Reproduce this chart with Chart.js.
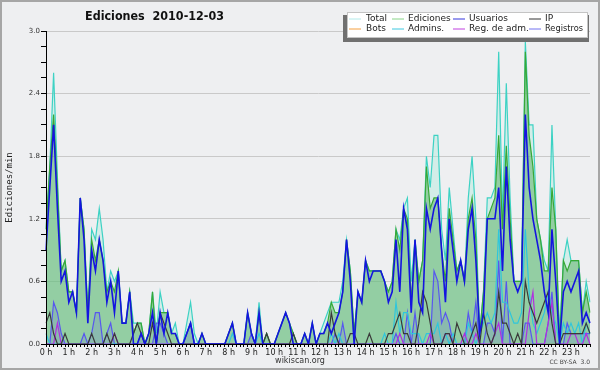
<!DOCTYPE html>
<html>
<head>
<meta charset="utf-8">
<script src="https://cdn.jsdelivr.net/npm/chart.js@4/dist/chart.umd.min.js"></script>
<style>
html, body { margin: 0; padding: 0; background: #eeeff1; }
canvas { display: block; }
</style>
</head>
<body>
<canvas id="editsChart" width="600" height="370"></canvas>
<script>
// 10-minute bins over the day, values in edits per minute
const times = [];
for (let h = 0; h < 24; h++) {
    for (let m = 0; m < 60; m += 10) times.push(h + ':' + String(m).padStart(2, '0'));
}
const hourTicks = ['0 h', '1 h', '2 h', '3 h', '4 h', '5 h', '6 h', '7 h', '8 h', '9 h', '10 h', '11 h',
    '12 h', '13 h', '14 h', '15 h', '16 h', '17 h', '18 h', '19 h', '20 h', '21 h', '22 h', '23 h'];

const total = [
    1.1, 1.7, 2.6, 1.6, 0.7, 0.8, 0.5, 0.5, 0.3, 1.4, 1.1, 0.3,
    1.1, 1.0, 1.3, 1.0, 0.5, 0.7, 0.6, 0.7, 0.2, 0.2, 0.5, 0.2,
    0.2, 0.2, 0, 0.1, 0.5, 0.1, 0.5, 0.3, 0.3, 0.1, 0.2, 0,
    0, 0.2, 0.4, 0.1, 0, 0.1, 0, 0, 0, 0, 0, 0,
    0.1, 0.2, 0, 0, 0, 0.3, 0.1, 0, 0.4, 0, 0.1, 0,
    0, 0.1, 0.2, 0.3, 0.2, 0.1, 0, 0, 0.1, 0, 0.2, 0,
    0.1, 0.2, 0.3, 0.4, 0.4, 0.4, 0.6, 1.0, 0.7, 0.1, 0.5, 0.4,
    0.8, 0.7, 0.7, 0.7, 0.7, 0.6, 0.5, 0.6, 1.1, 1.0, 1.3, 1.4,
    0.6, 1.0, 0.6, 0.8, 1.8, 1.5, 2.0, 2.0, 1.1, 0.8, 1.5, 1.1,
    0.7, 0.8, 0.6, 1.4, 1.8, 1.2, 0.1, 0.5, 1.4, 1.4, 1.5, 2.8,
    1.2, 2.5, 1.4, 0.6, 0.6, 0.6, 2.9, 2.1, 2.1, 1.2, 1.0, 0.8,
    0.7, 2.1, 1.1, 0.1, 0.8, 1.0, 0.8, 0.8, 0.8, 0.3, 0.6, 0.4
];
const ediciones = [
    1.1, 1.7, 2.2, 1.5, 0.7, 0.8, 0.5, 0.5, 0.3, 1.4, 1.1, 0.3,
    1.0, 0.8, 1.0, 0.8, 0.5, 0.6, 0.5, 0.7, 0.2, 0.2, 0.5, 0.1,
    0.2, 0.2, 0, 0.1, 0.5, 0, 0.3, 0.3, 0.3, 0.1, 0.1, 0,
    0, 0.1, 0.2, 0, 0, 0.1, 0, 0, 0, 0, 0, 0,
    0.1, 0.2, 0, 0, 0, 0.3, 0.1, 0, 0.3, 0, 0.1, 0,
    0, 0.1, 0.2, 0.3, 0.2, 0.1, 0, 0, 0.1, 0, 0.2, 0,
    0.1, 0.1, 0.2, 0.4, 0.3, 0.3, 0.5, 1.0, 0.7, 0.1, 0.5, 0.4,
    0.8, 0.7, 0.7, 0.7, 0.7, 0.6, 0.5, 0.6, 1.1, 0.9, 1.3, 1.2,
    0.4, 1.0, 0.6, 0.8, 1.7, 1.3, 1.4, 1.4, 0.9, 0.6, 1.3, 1.0,
    0.7, 0.8, 0.6, 1.2, 1.4, 1.0, 0.1, 0.5, 1.2, 1.3, 1.4, 2.0,
    1.1, 1.9, 1.2, 0.6, 0.6, 0.6, 2.8, 2.0, 1.7, 1.2, 1.0, 0.7,
    0.7, 1.5, 1.1, 0, 0.8, 0.7, 0.8, 0.8, 0.8, 0.3, 0.5, 0.3
];
const usuarios = [
    0.9, 1.5, 2.1, 1.3, 0.6, 0.7, 0.4, 0.5, 0.3, 1.4, 1.0, 0.2,
    0.9, 0.7, 1.0, 0.8, 0.4, 0.6, 0.3, 0.7, 0.2, 0.2, 0.5, 0,
    0, 0.1, 0, 0.1, 0.3, 0, 0.3, 0.1, 0.3, 0.1, 0.1, 0,
    0, 0.1, 0.2, 0, 0, 0.1, 0, 0, 0, 0, 0, 0,
    0.1, 0.2, 0, 0, 0, 0.3, 0.1, 0, 0.3, 0, 0, 0,
    0, 0.1, 0.2, 0.3, 0.2, 0, 0, 0, 0.1, 0, 0.2, 0,
    0.1, 0.1, 0.2, 0.1, 0.2, 0.3, 0.5, 1.0, 0.6, 0, 0.5, 0.4,
    0.8, 0.6, 0.7, 0.7, 0.7, 0.6, 0.4, 0.5, 1.0, 0.5, 1.3, 1.1,
    0.3, 1.0, 0.4, 0.3, 1.3, 1.1, 1.3, 1.4, 0.9, 0.4, 1.2, 0.9,
    0.6, 0.8, 0.6, 1.1, 1.3, 0.8, 0.1, 0.3, 1.2, 1.2, 1.2, 1.5,
    0.7, 1.7, 1.0, 0.6, 0.5, 0.6, 2.2, 1.5, 1.2, 1.0, 0.8, 0.5,
    0.3, 1.1, 0.6, 0, 0.5, 0.6, 0.5, 0.6, 0.7, 0.2, 0.3, 0.2
];
const ip = [
    0.2, 0.3, 0.1, 0, 0, 0.1, 0, 0, 0, 0, 0, 0,
    0.1, 0, 0, 0, 0.1, 0, 0.1, 0, 0, 0, 0, 0.1,
    0.2, 0.1, 0, 0, 0.2, 0, 0.3, 0.2, 0.1, 0, 0, 0,
    0, 0, 0, 0, 0, 0, 0, 0, 0, 0, 0, 0,
    0, 0, 0, 0, 0, 0, 0, 0, 0, 0, 0.1, 0,
    0, 0, 0, 0, 0, 0.1, 0, 0, 0, 0, 0, 0,
    0, 0, 0, 0.3, 0.1, 0, 0, 0, 0.1, 0.1, 0, 0,
    0, 0.1, 0, 0, 0, 0, 0.1, 0.1, 0.2, 0.3, 0.1, 0.1,
    0, 0, 0.2, 0.5, 0.4, 0.2, 0, 0, 0, 0.1, 0.1, 0,
    0.2, 0.1, 0, 0, 0.1, 0.2, 0, 0.3, 0.1, 0, 0.1, 0.5,
    0.2, 0.2, 0.1, 0, 0.1, 0, 0.6, 0.4, 0.3, 0.2, 0.3, 0.4,
    0.5, 0.2, 0, 0, 0.1, 0.1, 0.1, 0.1, 0.1, 0.1, 0.2, 0.1
];
const bots = [
    0, 0, 0, 0, 0, 0, 0, 0, 0, 0, 0, 0,
    0, 0, 0, 0, 0, 0, 0, 0, 0, 0, 0, 0,
    0, 0, 0, 0, 0, 0, 0, 0, 0, 0, 0, 0,
    0, 0, 0, 0, 0, 0, 0, 0, 0, 0, 0, 0,
    0, 0, 0, 0, 0, 0, 0, 0, 0, 0, 0, 0,
    0, 0, 0, 0, 0, 0, 0, 0, 0, 0, 0, 0,
    0, 0, 0, 0, 0, 0, 0, 0, 0, 0, 0, 0,
    0, 0, 0, 0, 0, 0, 0, 0, 0, 0, 0, 0,
    0, 0, 0, 0, 0, 0, 0, 0, 0, 0, 0, 0,
    0, 0, 0, 0, 0, 0, 0, 0, 0, 0, 0, 0,
    0, 0, 0, 0, 0, 0, 0, 0, 0, 0, 0, 0,
    0, 0, 0, 0, 0, 0, 0, 0, 0, 0, 0, 0
];
const admins = [
    0.1, 0, 0, 0, 0, 0, 0, 0, 0, 0, 0, 0,
    0, 0, 0, 0, 0, 0, 0, 0, 0, 0, 0, 0,
    0, 0, 0, 0, 0, 0, 0, 0, 0, 0, 0, 0,
    0, 0, 0, 0, 0, 0, 0, 0, 0, 0, 0, 0,
    0, 0.1, 0, 0, 0, 0, 0, 0, 0.1, 0, 0, 0,
    0, 0, 0, 0, 0, 0, 0, 0, 0, 0, 0, 0,
    0, 0, 0, 0.1, 0, 0.1, 0, 0, 0, 0, 0, 0,
    0, 0, 0, 0, 0, 0.1, 0, 0, 0.4, 0.1, 0.3, 0.3,
    0.1, 0.1, 0.1, 0, 0.1, 0.1, 0.1, 0.2, 0, 0.1, 0, 0.1,
    0, 0, 0, 0.2, 0.1, 0, 0.1, 0.2, 0.3, 0.2, 0.3, 1.1,
    0.4, 0.4, 0.3, 0.2, 0.2, 0.3, 1.1, 0.5, 0.2, 0.1, 0.2, 0.3,
    0.5, 0.3, 0.2, 0, 0.2, 0.1, 0.2, 0.1, 0.2, 0, 0.2, 0.1
];
const regAdm = [
    0, 0, 0, 0.2, 0, 0, 0, 0, 0, 0, 0, 0,
    0, 0, 0, 0, 0, 0, 0.1, 0, 0, 0, 0, 0,
    0, 0, 0, 0, 0, 0, 0, 0, 0, 0, 0, 0,
    0, 0, 0, 0, 0, 0, 0, 0, 0, 0, 0, 0,
    0, 0, 0, 0, 0, 0, 0, 0, 0, 0, 0, 0,
    0, 0, 0, 0, 0, 0, 0, 0, 0, 0, 0, 0,
    0, 0, 0, 0, 0, 0, 0, 0, 0, 0, 0, 0,
    0, 0, 0, 0, 0, 0, 0, 0, 0, 0.1, 0, 0,
    0, 0, 0, 0, 0, 0.1, 0, 0, 0, 0.1, 0.1, 0,
    0, 0, 0.1, 0, 0, 0.1, 0, 0, 0, 0, 0.1, 0.2,
    0, 0, 0, 0, 0, 0, 0, 0.3, 0.5, 0, 0, 0,
    0.2, 0.4, 0, 0, 0, 0, 0.1, 0.1, 0, 0, 0.1, 0
];
const registros = [
    0, 0, 0.4, 0.3, 0.1, 0, 0, 0, 0, 0, 0.1, 0,
    0.1, 0.3, 0.3, 0, 0.1, 0.2, 0, 0, 0, 0, 0, 0,
    0, 0.1, 0, 0, 0, 0.2, 0.2, 0.1, 0, 0, 0, 0,
    0, 0.1, 0.2, 0, 0, 0, 0, 0, 0, 0, 0, 0,
    0, 0, 0, 0, 0, 0, 0.1, 0, 0, 0, 0, 0,
    0, 0, 0, 0, 0, 0, 0, 0, 0, 0, 0, 0,
    0, 0, 0, 0, 0.1, 0, 0.2, 0, 0, 0, 0, 0,
    0, 0, 0, 0, 0, 0, 0, 0, 0.1, 0, 0, 0.3,
    0, 0.3, 0, 0, 0, 0, 0.7, 0.6, 0.2, 0.3, 0.2, 0,
    0, 0, 0, 0.3, 0.1, 0.4, 0, 0, 0.2, 0.2, 0.1, 0.8,
    0, 0.6, 0, 0, 0, 0, 0.2, 0.2, 0, 0, 0, 0,
    0.2, 0.5, 0, 0, 0, 0.2, 0.1, 0.1, 0.1, 0.1, 0.1, 0.1
];

// legend layout: two rows of four, same as the wikiscan box
const legendItems = [
    ['Total', '#b2eaea'], ['Ediciones', '#88d488'], ['Usuarios', '#3535dd'], ['IP', '#333333'],
    ['Bots', '#f5a040'], ['Admins.', '#3cc8e0'], ['Reg. de adm.', '#c040e0'], ['Registros', '#7272f0']
];

function line(label, data, color, order, extra) {
    return Object.assign({
        label: label,
        data: data,
        borderColor: color,
        borderWidth: 1.2,
        pointRadius: 0,
        tension: 0,
        fill: false,
        order: order
    }, extra || {});
}

const framePlugin = {
    id: 'frame',
    beforeDraw(chart) {
        const c = chart.ctx;
        c.save();
        c.fillStyle = '#eeeff1';
        c.fillRect(0, 0, chart.width, chart.height);
        c.restore();
    },
    afterDraw(chart) {
        const c = chart.ctx;
        c.save();
        // title
        c.fillStyle = '#111';
        c.font = 'bold 12px "DejaVu Sans"';
        c.textBaseline = 'middle';
        c.textAlign = 'left';
        c.fillText('Ediciones  2010-12-03', 85, 16.5, 139);

        // legend box with its shadow
        c.fillStyle = '#707070';
        c.fillRect(343, 15, 246, 27);
        c.fillStyle = '#fff';
        c.fillRect(347, 12, 241, 26);
        c.strokeStyle = '#c4c4c4';
        c.lineWidth = 1;
        c.strokeRect(347.5, 12.5, 240, 25);
        const colX = [349, 392, 453, 529];
        const textX = [366, 408, 469, 545];
        const rowY = [18.5, 28.5];
        c.font = '9px "DejaVu Sans"';
        legendItems.forEach((item, k) => {
            const col = k % 4, row = Math.floor(k / 4);
            c.strokeStyle = item[1];
            c.beginPath();
            c.moveTo(colX[col], rowY[row] + 0.5);
            c.lineTo(colX[col] + 12, rowY[row] + 0.5);
            c.stroke();
            c.fillStyle = '#222';
            c.fillText(item[0], textX[col], rowY[row], 583 - textX[col]);
        });

        // footer texts
        c.fillStyle = '#333';
        c.font = '8px "DejaVu Sans"';
        c.textAlign = 'center';
        c.fillText('wikiscan.org', 300, 361);
        c.font = '6px "DejaVu Sans"';
        c.textAlign = 'right';
        c.fillStyle = '#444';
        c.fillText('CC BY-SA  3.0', 590, 362);

        // outer frame
        c.strokeStyle = '#a6a6a6';
        c.lineWidth = 2;
        c.strokeRect(1, 1, chart.width - 2, chart.height - 2);
        c.restore();
    }
};

const isMajor = v => Math.round(v / 0.15) % 4 === 0;

const ctx = document.getElementById('editsChart').getContext('2d');
const editsChart = new Chart(ctx, {
    type: 'line',
    data: {
        labels: times,
        datasets: [
            line('Total', total, '#3dd2c4', 9, { fill: 'origin', backgroundColor: 'rgba(170,235,220,0.4)' }),
            line('Ediciones', ediciones, '#37a837', 8, { fill: 'origin', backgroundColor: 'rgba(75,172,85,0.47)' }),
            line('Registros', registros, '#5757ef', 7, { fill: 'origin', backgroundColor: 'rgba(100,100,230,0.18)' }),
            line('Admins.', admins, '#2fc6dc', 6),
            line('Reg. de adm.', regAdm, '#b030e0', 5),
            line('IP', ip, '#3a3a3a', 4),
            line('Usuarios', usuarios, '#1414e0', 3, { borderWidth: 1.6 }),
            line('Bots', bots, '#f59a30', 10)
        ]
    },
    options: {
        responsive: false,
        animation: false,
        layout: { padding: { top: 31, right: 10, bottom: 0, left: 0 } },
        plugins: {
            legend: { display: false },
            title: { display: false },
            tooltip: { enabled: false }
        },
        scales: {
            x: {
                type: 'category',
                offset: false,
                grid: { drawOnChartArea: false, tickLength: 3, tickColor: '#000' },
                border: { color: '#000', z: 1 },
                ticks: {
                    autoSkip: false,
                    maxRotation: 0,
                    minRotation: 0,
                    padding: 1,
                    color: '#222',
                    font: { family: 'DejaVu Sans', size: 8 },
                    callback: (v, i) => (i % 6 === 0 ? hourTicks[i / 6] : '')
                },
                afterFit: s => { s.height = 26; }
            },
            y: {
                min: 0,
                max: 3,
                grid: {
                    color: c => (isMajor(c.tick.value) ? '#c9c9c9' : 'rgba(0,0,0,0)'),
                    tickColor: '#000',
                    tickLength: 5
                },
                border: { color: '#000', z: 1 },
                ticks: {
                    stepSize: 0.15,
                    maxTicksLimit: 100,
                    padding: 1,
                    color: '#333',
                    font: { family: 'DejaVu Sans', size: 7 },
                    callback: v => (isMajor(v) ? v.toFixed(1) : '')
                },
                title: {
                    display: true,
                    text: 'Ediciones/min',
                    color: '#222',
                    font: { family: 'DejaVu Sans Mono', size: 9 },
                    padding: 4
                },
                afterFit: s => { s.width = 46; }
            }
        }
    },
    plugins: [framePlugin]
});
</script>
</body>
</html>
